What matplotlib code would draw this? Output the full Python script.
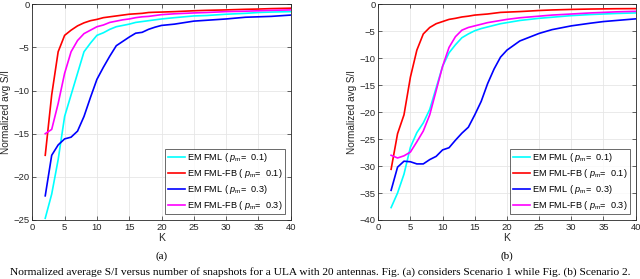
import matplotlib.pyplot as plt

# data
K = [2, 3, 4, 5, 6, 7, 8, 9, 10, 11, 12, 13, 14, 15, 16, 17, 18, 19, 20,
     22, 25, 27, 30, 33, 35, 37, 40]

# (a) scenario 1
a_fml_01 = [-24.8, -22, -18, -13, -10.5, -8, -5.5, -4.5, -3.6, -3.3, -2.9, -2.6, -2.45, -2.3,
            -2.1, -2.0, -1.9, -1.8, -1.7, -1.55, -1.35, -1.3, -1.15, -1.05, -0.95, -0.9, -0.85]
a_fb_01 = [-17.5, -10.5, -5.5, -3.6, -3.0, -2.5, -2.15, -1.9, -1.75, -1.55, -1.45, -1.35, -1.25,
           -1.15, -1.1, -1.05, -0.95, -0.92, -0.9, -0.85, -0.75, -0.7, -0.65, -0.58, -0.55, -0.5, -0.45]
a_fml_03 = [-22.2, -17.5, -16.3, -15.6, -15.4, -14.7, -13, -10.8, -8.7, -7.3, -6, -4.8, -4.3, -3.8,
            -3.35, -3.25, -2.9, -2.65, -2.45, -2.3, -1.95, -1.85, -1.7, -1.5, -1.45, -1.4, -1.25]
a_fb_03 = [-15, -14.5, -11.5, -8, -5.5, -4.2, -3.4, -3.0, -2.6, -2.4, -2.1, -1.95, -1.8, -1.7,
           -1.55, -1.45, -1.4, -1.3, -1.2, -1.1, -1.0, -0.95, -0.85, -0.8, -0.75, -0.7, -0.65]

# (b) scenario 2
b_fml_01 = [-37.7, -35, -31.5, -26.5, -23.8, -22, -19.5, -15.5, -11.5, -9, -7.5, -6.2, -5.5, -4.9,
            -4.5, -4.2, -3.9, -3.6, -3.4, -3.0, -2.6, -2.4, -2.1, -1.9, -1.8, -1.7, -1.6]
b_fb_01 = [-30.6, -24, -20.5, -13.5, -8.5, -5.5, -4.3, -3.6, -3.2, -2.8, -2.6, -2.35, -2.2, -2.0,
           -1.9, -1.8, -1.65, -1.5, -1.45, -1.35, -1.15, -1.05, -0.95, -0.88, -0.85, -0.82, -0.8]
b_fml_03 = [-34.5, -30.2, -29.1, -29.2, -29.6, -29.6, -28.8, -28.2, -27.0, -26.6, -25.2, -23.9,
            -22.8, -20.5, -18, -14.7, -12, -9.8, -8.5, -6.8, -5.4, -4.7, -4.0, -3.5, -3.2, -3.0, -2.7]
b_fb_03 = [-28, -28.5, -28.1, -27.4, -25.5, -23.5, -20.5, -16, -11.5, -8, -6, -4.8, -4.3, -4.0,
           -3.7, -3.4, -3.2, -3.0, -2.8, -2.5, -2.2, -2.0, -1.8, -1.6, -1.5, -1.4, -1.3]

labels = [r'EM FML ( $\mathit{p}_{\rm m}$=  0.1)', r'EM FML-FB ( $\mathit{p}_{\rm m}$=  0.1)',
          r'EM FML ( $\mathit{p}_{\rm m}$=  0.3)', r'EM FML-FB ( $\mathit{p}_{\rm m}$=  0.3)']
colors = ['#00ffff', '#ff0000', '#0000ff', '#ff00ff']

# MATLAB-like look: Helvetica metrics
plt.rcParams['font.family'] = 'Liberation Sans'
plt.rcParams['mathtext.fontset'] = 'custom'
plt.rcParams['mathtext.rm'] = 'Liberation Sans'
plt.rcParams['mathtext.it'] = 'Liberation Sans:italic'

fig = plt.figure(figsize=(6.4, 2.79), dpi=100)
ax_a = fig.add_axes([0.0505, 0.2115, 0.4037, 0.7731])
ax_b = fig.add_axes([0.591, 0.2115, 0.4022, 0.7731])

panels = [(ax_a, [a_fml_01, a_fb_01, a_fml_03, a_fb_03], -25, -0.081, '(a)'),
          (ax_b, [b_fml_01, b_fb_01, b_fml_03, b_fb_03], -40, -0.083, '(b)')]

for ax, series, ymin, ylab_x, tag in panels:
    for y, c, lab in zip(series, colors, labels):
        ax.plot(K, y, color=c, lw=1.2, label=lab)
    ax.set_xlim(0, 40)
    ax.set_ylim(ymin, 0)
    ax.set_xticks(range(0, 41, 5))
    ax.set_yticks(range(ymin, 1, 5))
    ax.grid(True, color='#e6e6e6', lw=0.6)
    ax.set_axisbelow(True)
    ax.tick_params(direction='in', top=True, right=True, labelsize=6.8, length=3,
                   width=0.5, colors='#262626', pad=2)
    for s in ax.spines.values():
        s.set_linewidth(0.6)
        s.set_color('#262626')
    ax.set_xlabel('K', fontsize=7.5, labelpad=1, color='#262626')
    ax.set_ylabel('Normalized avg S/I', fontsize=7.2, color='#262626')
    ax.yaxis.set_label_coords(ylab_x, 0.5)
    leg = ax.legend(loc='lower right', fontsize=6.6, frameon=True, fancybox=False,
                    handlelength=1.9, handletextpad=0.2, borderaxespad=0.6,
                    labelspacing=0.3, borderpad=0.3)
    leg.get_frame().set_edgecolor('#262626')
    leg.get_frame().set_linewidth(0.6)
    cx = ax.get_position().x0 + ax.get_position().width / 2
    fig.text(cx, 1 - 256 / 279, tag, ha='center', va='center', fontsize=8,
             family='Liberation Serif')

fig.text(0.5, 1 - 272 / 279,
         'Normalized average S/I versus number of snapshots for a ULA with '
         '20 antennas. Fig. (a) considers Scenario 1 while Fig. (b) Scenario 2.',
         ha='center', va='center', fontsize=8.2, family='Liberation Serif')

fig.savefig('out.png', dpi=100)
